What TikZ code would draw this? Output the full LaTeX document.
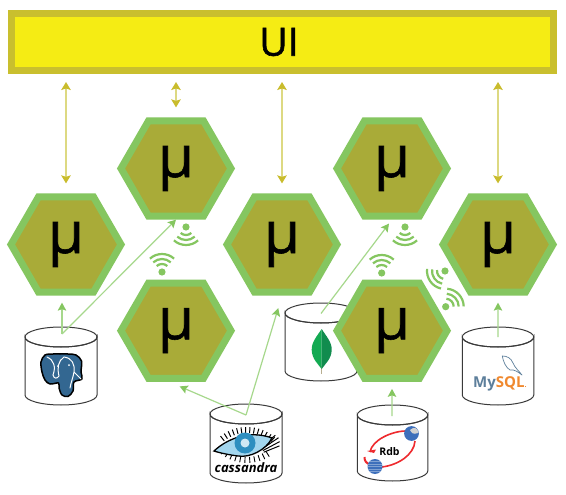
\documentclass[tikz,border=0pt]{standalone}
\usepackage{fontspec}
\setmainfont{Open Sans}
\newfontfamily\heavyfont[FakeBold=1.5]{Open Sans}
\newfontfamily\midfont[FakeBold=1.0]{Open Sans}
\usetikzlibrary{arrows.meta,shapes.geometric}
\definecolor{uiborder}{HTML}{C9BF2E}
\definecolor{uifill}{HTML}{F5EC14}
\definecolor{hexfill}{HTML}{A9AB38}
\definecolor{hexline}{HTML}{85C660}
\definecolor{uiline}{HTML}{DDD982}
\definecolor{uihead}{HTML}{C9BC2C}
\definecolor{dataline}{HTML}{A6D88C}
\definecolor{cylline}{HTML}{3A3A3A}
\definecolor{pgblue}{HTML}{336791}
\definecolor{mysqlblue}{HTML}{5D7F9B}
\definecolor{mysqlorange}{HTML}{F0892F}
\definecolor{leafa}{HTML}{13AA52}
\definecolor{leafb}{HTML}{118C4E}
\definecolor{leafstem}{HTML}{B8AE90}
\definecolor{rdbblue}{HTML}{3D6FBB}
\definecolor{rdbred}{HTML}{EE2A2E}
\definecolor{eyelight}{HTML}{A3D6EE}
\definecolor{eyeblue}{HTML}{2E8FC0}
\definecolor{eyepale}{HTML}{CFE8F4}
\tikzset{
  x=1pt,y=-1pt,
  uibar/.style={draw=uiborder,fill=uifill,line width=7pt,minimum width=542pt,minimum height=57pt,inner sep=0pt,
     font=\heavyfont\fontsize{39}{44}\selectfont},
  hexa/.style={regular polygon,regular polygon sides=6,draw=hexline,fill=hexfill,
     line width=7pt,minimum size=110pt,inner sep=0pt,font=\midfont\fontsize{58}{60}\selectfont},
  uiarrow/.style={draw=uiline,line width=1.4pt,
     {Stealth[length=8pt,width=9.5pt,inset=1.5pt,color=uihead]}-{Stealth[length=8pt,width=9.5pt,inset=1.5pt,color=uihead]},
     shorten <=8pt,shorten >=10pt},
  dataarrow/.style={draw=dataline,line width=1.2pt,-{Stealth[length=8pt,width=8.5pt,inset=1.5pt,color=hexline]}},
  cylpath/.style={draw=cylline,line width=1pt,fill=white},
  wifiarc/.style={draw=hexline,line width=2.2pt},
  pics/wifi/.style={code={
    \fill[hexline] (0,0) circle[radius=3.6];
    \foreach \r in {8,13,18}{
      \draw[wifiarc] ({#1-42}:\r) arc[start angle={#1-42},end angle={#1+42},radius=\r];
    }
  }}
}
\newcommand{\dbcyl}[5]{% name, cx, top, w, h
  \draw[cylpath] ({#2-#4/2},{#3+10}) arc[start angle=180,end angle=0,x radius={#4/2},y radius=10]
     -- ({#2+#4/2},{#3+#5-10}) arc[start angle=0,end angle=180,x radius={#4/2},y radius=10] -- cycle;
  \draw[cylpath,fill=none] ({#2-#4/2},{#3+10}) arc[start angle=180,end angle=-180,x radius={#4/2},y radius=10];
  \node[inner sep=0pt,minimum width=#4 pt,minimum height=#5 pt] (#1) at (#2,{#3+#5/2}) {};
}
\begin{document}
\begin{tikzpicture}
\useasboundingbox (0,0) rectangle (566,495);
\fill[white] (0,0) rectangle (566,495);

% databases
\dbcyl{pg}{61}{327}{72}{78}
\dbcyl{cass}{246}{404}{72}{79}
\dbcyl{mongo}{321}{303}{72}{78}
\dbcyl{rdb}{392.5}{405}{70.5}{76}
\dbcyl{mysql}{498}{327}{71.5}{78}

% PostgreSQL logo
\draw[black,line width=1.5pt,fill=pgblue,line join=round]
  plot[smooth cycle,tension=.55] coordinates {(41,362) (45,355) (53,354) (60,354) (68,354) (76,355) (81.5,361) (81,372) (82,379) (74,382) (73,391) (68,396.5) (62,395) (59,388) (58.5,383) (50,384) (45,380) (42,372)};
\draw[white,line width=1pt,line cap=round] (47,357) .. controls (54,360) and (56,367) .. (53,375) .. controls (54,379) and (57,379) .. (59,376)
  .. controls (57,368) and (58,361) .. (64,357) .. controls (72,358) and (75,364) .. (74,372) .. controls (73,378) and (71,382) .. (70,388)
  (74,372) -- (81,379);
\fill[white] (58,366) circle[radius=1] (69,365) circle[radius=1];

% Cassandra logo
\foreach \a in {-128,-122,...,-46}{
  \draw[black,line width=1pt] ({247+37*cos(\a)},{470+37*sin(\a)}) -- ({247+43*cos(\a)},{470+43*sin(\a)});
}
\foreach \a/\l in {-40/37,-34/38,-28/37,-22/35}{
  \draw[black,line width=1pt] ({247+18*cos(\a)},{459+18*sin(\a)}) -- ({247+\l*cos(\a)},{459+\l*sin(\a)});
}
\foreach \a in {58,65,...,135}{
  \draw[black,line width=.9pt] ({247+36*cos(\a)},{421+36*sin(\a)}) -- ({247+42*cos(\a)},{421+42*sin(\a)});
}
\draw[black,line width=1.3pt,fill=eyelight] (214,451) .. controls (228,438) and (250,430) .. (272,438)
   .. controls (266,450) and (250,458) .. (238,456) .. controls (230,455) and (220,453) .. (214,451) -- cycle;
\fill[eyeblue] (245,443) circle[radius=10.5];
\fill[eyepale] (245,443) circle[radius=4.5];
\node[font=\fontsize{13}{14}\selectfont\bfseries\itshape,inner sep=0pt] (casstext) at (246,467.5) {cassandra};

% MongoDB leaf
\fill[leafstem] (321.2,366) rectangle (322.2,373.5);
\fill[leafa] (321.7,329) .. controls (317,336) and (311.5,342) .. (311.7,350) .. controls (312,359) and (318,364) .. (321.7,369) -- cycle;
\fill[leafb] (321.7,329) .. controls (326,336) and (332,342) .. (331.7,350) .. controls (331.5,359) and (325,364) .. (321.7,369) -- cycle;

% Rdb logo
\draw[rdbred,line width=1.6pt] (406,431) .. controls (392,431) and (372,440) .. (370,452);
\fill[rdbred] (367,451) -- (376,449.5) -- (374,453) -- cycle;
\draw[rdbred,line width=1.6pt] (382,467) .. controls (398,465) and (414,455) .. (415,441);
\draw[rdbred,line width=2pt] (370,464.5) .. controls (366,463) and (364.5,461) .. (364.5,457);
\fill[rdbblue] (411.5,433.5) circle[radius=7.4];
\fill[black!18] (410,430) .. controls (414,426) and (418,428) .. (418.5,433) .. controls (416,433) and (413,436) .. (410,430) -- cycle;
\fill[rdbblue] (375,466.5) circle[radius=7.5];
\foreach \d in {-5,-2.5,0,2.5,5}{
  \draw[white,opacity=.35,line width=.4pt] ({375-sqrt(56-\d*\d)},{466.5+\d}) -- ({375+sqrt(56-\d*\d)},{466.5+\d});
}
\node[font=\fontsize{10.5}{11}\selectfont\bfseries,inner sep=0pt] (rdbtext) at (389.5,451.5) {Rdb};

% MySQL logo
\draw[mysqlblue,line width=.7pt,line join=round] (502.3,356) .. controls (507,356) and (511,358) .. (513,363)
  .. controls (515,368) and (519,371) .. (522,375) .. controls (518,372) and (514,369) .. (510,370)
  .. controls (506,368) and (503,361) .. (502.3,356) -- cycle;
\node[font=\fontsize{15}{17}\selectfont\bfseries,inner sep=0pt,anchor=base west] (mysqltext) at (473,387.7)
  {\textcolor{mysqlblue}{My}\textcolor{mysqlorange}{SQL}\textcolor{mysqlorange}{\fontsize{7}{9}\selectfont.}};

% UI bar and hexagons
\node[uibar] (ui) at (282,42) {\hspace*{-6pt}UI};
\node[hexa] (h1) at (66,244.5) {μ};
\node[hexa] (h2) at (176,168.5) {μ};
\node[hexa] (h3) at (176,330.7) {μ};
\node[hexa] (h4) at (282,244.5) {μ};
\node[hexa] (h5) at (392,168.5) {μ};
\node[hexa] (h6) at (392,330.7) {μ};
\node[hexa] (h7) at (498,244.5) {μ};

% UI connectors
\draw[uiarrow] (ui.south -| h1.north) -- (h1.north);
\draw[uiarrow] (ui.south -| h2.north) -- (h2.north);
\draw[uiarrow] (ui.south -| h4.north) -- (h4.north);
\draw[uiarrow] (ui.south -| h7.north) -- (h7.north);

% data connectors
\coordinate (pgout) at (62,334);
\coordinate (cassout) at (246,415);
\coordinate (mongoout) at (321,313.5);
\coordinate (rdbout) at (392,416);
\coordinate (mysqlout) at (498,337);
\draw[dataarrow,shorten >=7pt] (pgout) -- (pgout |- h1.south);
\draw[dataarrow] (pgout) -- (h2.south);
\draw[dataarrow,shorten >=4pt] (cassout) -- ([yshift=-3pt]h3.south);
\draw[dataarrow,shorten >=13pt] (cassout) -- (h4.south);
\draw[dataarrow,shorten >=5pt] (mongoout) -- (h5.south);
\draw[dataarrow,shorten >=7pt] (rdbout) -- (h6.south);
\draw[dataarrow,shorten >=7pt] (mysqlout) -- (h7.south);

% wireless links
\pic at (186,227) {wifi=90};
\pic at (162,272) {wifi=-90};
\pic at (405,227) {wifi=90};
\pic at (381.7,273) {wifi=-90};
\pic at (445,271) {wifi=145};
\pic at (445.7,306.7) {wifi=-43};
\end{tikzpicture}
\end{document}
